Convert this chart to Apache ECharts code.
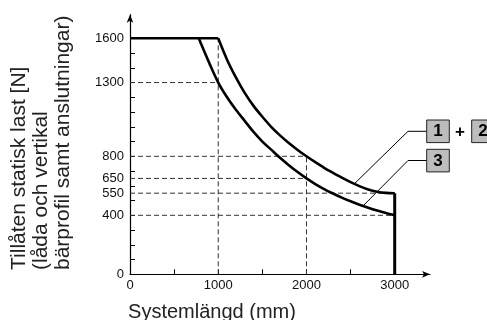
<!DOCTYPE html>
<html>
<head>
<meta charset="utf-8">
<script src="https://cdn.jsdelivr.net/npm/echarts@6/dist/echarts.min.js"></script>
<style>
  html, body { margin: 0; padding: 0; background: #fff; }
  #chart { width: 487px; height: 320px; }
</style>
</head>
<body>
<div id="chart"></div>
<script>
  // tick marks and labels
  var xTicks = [0, 500, 1000, 1500, 2000, 2500, 3000];
  var xLabels = [0, 1000, 2000, 3000];
  var yTicks = [0, 100, 200, 300, 400, 500, 600, 700, 800, 900, 1000, 1100, 1200, 1300, 1400, 1500, 1600];
  var yLabels = [0, 400, 550, 650, 800, 1300, 1600];

  // shared flat top at 1600 N
  var flatX = [0, 1000];
  var flatY = [1600, 1600];

  // curve 1 + 2
  var curveAX = [1000, 1100, 1200, 1300, 1400, 1500, 1600, 1700, 1800, 1900, 2000,
                 2100, 2200, 2300, 2400, 2500, 2600, 2700, 2800, 2900, 3000];
  var curveAY = [1600, 1455, 1335, 1230, 1142, 1068, 1000, 942, 890, 843, 800,
                 760, 722, 688, 655, 625, 598, 575, 560, 552, 550];

  // curve 3
  var curveBX = [780, 800, 900, 1000, 1100, 1200, 1300, 1400, 1500, 1600, 1700, 1800, 1900, 2000,
                 2100, 2200, 2300, 2400, 2500, 2600, 2700, 2800, 2900, 3000];
  var curveBY = [1600, 1570, 1430, 1300, 1200, 1115, 1040, 965, 900, 845, 790, 740, 693, 650,
                 612, 578, 548, 520, 495, 472, 451, 432, 415, 400];

  // vertical end at 3000 mm
  var endX = [3000, 3000];
  var endY = [550, 0];

  // dashed helper lines: [value, end]
  var dashH = [[1300, 1000], [800, 2000], [650, 2000], [550, 3000], [400, 3000]];
  var dashV = [[1000, 1600], [2000, 800]];

  // where the leader lines touch the curves
  var leaderA = [2540, 612];
  var leaderB = [2640, 463];

  function pairs(xs, ys) {
    var out = [];
    for (var i = 0; i < xs.length; i++) out.push([xs[i], ys[i]]);
    return out;
  }

  var series = [];
  dashH.forEach(function (d) {
    series.push({
      type: 'line', data: [[0, d[0]], [d[1], d[0]]], symbol: 'none', z: 1,
      lineStyle: { color: '#333', width: 1, type: [5, 3] }
    });
  });
  dashV.forEach(function (d) {
    series.push({
      type: 'line', data: [[d[0], 0], [d[0], d[1]]], symbol: 'none', z: 1,
      lineStyle: { color: '#333', width: 1, type: [5, 3] }
    });
  });
  var thick = { color: '#000', width: 2.6 };
  series.push({ type: 'line', data: pairs(flatX, flatY), symbol: 'none', z: 3, lineStyle: thick });
  series.push({ type: 'line', data: pairs(curveAX, curveAY), symbol: 'none', z: 3, smooth: 0.3, lineStyle: thick });
  series.push({ type: 'line', data: pairs(curveBX, curveBY), symbol: 'none', z: 3, smooth: 0.3, lineStyle: thick });
  series.push({ type: 'line', data: pairs(endX, endY), symbol: 'none', z: 3, lineStyle: { color: '#000', width: 3 } });

  var plain = function (v) { return String(v); };

  var chart = echarts.init(document.getElementById('chart'));
  chart.setOption({
    animation: false,
    grid: { left: 130, right: 57, top: 14.7, bottom: 45.7 },
    xAxis: {
      type: 'value', min: 0, max: 3400,
      splitLine: { show: false },
      axisLine: { lineStyle: { color: '#000', width: 1.2 }, symbol: ['none', 'arrow'], symbolSize: [5, 8] },
      axisTick: { inside: true, length: 5, lineStyle: { color: '#000' }, customValues: xTicks },
      axisLabel: { customValues: xLabels, formatter: plain, color: '#111', fontSize: 13, fontFamily: 'Liberation Sans', margin: 5 }
    },
    yAxis: {
      type: 'value', min: 0, max: 1760,
      splitLine: { show: false },
      axisLine: { show: true, lineStyle: { color: '#000', width: 1.2 }, symbol: ['none', 'arrow'], symbolSize: [5, 8] },
      axisTick: { show: true, inside: true, length: 5, lineStyle: { color: '#000' }, customValues: yTicks },
      axisLabel: { customValues: yLabels, formatter: plain, color: '#111', fontSize: 13, fontFamily: 'Liberation Sans', margin: 6 }
    },
    series: series
  });

  var pA = chart.convertToPixel({ gridIndex: 0 }, leaderA);
  var pB = chart.convertToPixel({ gridIndex: 0 }, leaderB);
  var boxStyle = { fill: '#bdbdbd', stroke: '#222', lineWidth: 1 };
  var boxText = { font: 'bold 17px "Liberation Sans"', fill: '#000', textAlign: 'center', textVerticalAlign: 'middle' };
  function box(x, y, t) {
    return [
      { type: 'rect', shape: { x: x, y: y, width: 22.6, height: 22.6 }, style: boxStyle, z: 10 },
      { type: 'text', x: x + 11.3, y: y + 11.8, style: Object.assign({ text: t }, boxText), z: 11 }
    ];
  }
  chart.setOption({
    graphic: [
      { type: 'text', x: 8, y: 270, rotation: Math.PI / 2,
        style: { text: 'Tillåten statisk last [N]\n(låda och vertikal\nbärprofil samt anslutningar)',
                 font: '21px "Liberation Sans"', fill: '#222', lineHeight: 22, textAlign: 'left', textVerticalAlign: 'top' } },
      { type: 'text', x: 212, y: 312,
        style: { text: 'Systemlängd (mm)', font: '20px "Liberation Sans"', fill: '#222', textAlign: 'center', textVerticalAlign: 'middle' } },
      { type: 'polyline', shape: { points: [[426.7, 131.3], [408, 131.3], pA] }, style: { stroke: '#000', lineWidth: 1, fill: null }, z: 9 },
      { type: 'polyline', shape: { points: [[426.7, 160.5], [408, 160.5], pB] }, style: { stroke: '#000', lineWidth: 1, fill: null }, z: 9 },
      { type: 'text', x: 460, y: 132, style: { text: '+', font: 'bold 17px "Liberation Sans"', fill: '#000', textAlign: 'center', textVerticalAlign: 'middle' } }
    ].concat(box(426.7, 120, '1'), box(471.7, 120, '2'), box(426.7, 149.3, '3'))
  });
</script>
</body>
</html>
